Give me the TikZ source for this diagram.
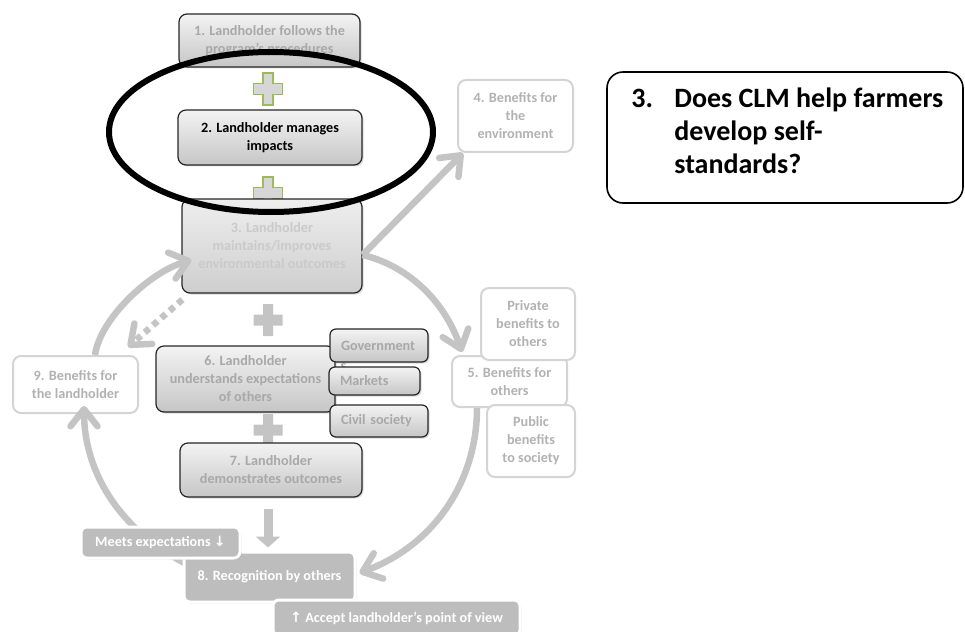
\documentclass[tikz,border=0pt]{standalone}
\usepackage{fontspec}
\setmainfont{Carlito}
\newfontfamily\symfont{DejaVu Sans}
\usetikzlibrary{arrows.meta,shadows,calc}

\definecolor{linegray}{RGB}{196,196,196}
\definecolor{boxtop}{RGB}{243,243,243}
\definecolor{boxbot}{RGB}{198,198,198}
\definecolor{paletop}{RGB}{238,238,238}
\definecolor{palebot}{RGB}{206,206,206}
\definecolor{edgedark}{RGB}{38,38,38}
\definecolor{txtmid}{RGB}{168,168,168}
\definecolor{txtpale}{RGB}{202,202,202}
\definecolor{paleedge}{RGB}{212,212,212}
\definecolor{paletxt}{RGB}{178,178,178}
\definecolor{solidgray}{RGB}{189,189,189}
\definecolor{crossgray}{RGB}{196,196,196}
\definecolor{crossfill}{RGB}{214,214,214}
\definecolor{crossedge}{RGB}{155,187,89}

\pgfdeclarelayer{arrowlayer}
\pgfdeclarelayer{toplayer}
\pgfsetlayers{main,arrowlayer,toplayer}

\tikzset{
  every node/.style={font=\fontsize{14.2}{18}\selectfont\bfseries, inner sep=0pt, align=center},
  stepbox/.style={rounded corners=8pt, draw=edgedark, line width=1.2pt,
    top color=boxtop, bottom color=boxbot, text=txtmid,
    drop shadow={shadow xshift=1.5pt, shadow yshift=-1.5pt, opacity=0.3}},
  tagbox/.style={stepbox, rounded corners=6pt, align=left, inner xsep=11pt},
  outbox/.style={rounded corners=8pt, draw=paleedge, line width=2pt, fill=white, text=paletxt},
  solidbox/.style={rounded corners=6pt, draw=white, line width=3pt, fill=solidgray, text=white,
    drop shadow={shadow xshift=1.5pt, shadow yshift=-1.5pt, opacity=0.3}},
  flow/.style={draw=linegray, line width=6.5pt, -{Straight Barb[length=17pt,width=27pt,round]}},
  dotflow/.style={flow, dash pattern=on 6pt off 5pt},
  blockflow/.style={draw=linegray, line width=9pt, -{Triangle[length=11pt,width=24pt]}},
  greenplus/.style={fill=crossfill, draw=crossedge, line width=1.3pt},
  grayplus/.style={fill=crossgray},
  plusmark/.pic={
    \path[pic actions] (-14.5,-5.5) -- (-5,-5.5) -- (-5,-16) -- (5,-16) -- (5,-5.5) -- (14.5,-5.5)
      -- (14.5,5.5) -- (5,5.5) -- (5,16) -- (-5,16) -- (-5,5.5) -- (-14.5,5.5) -- cycle;
  }
}

\begin{document}
\begin{tikzpicture}[x=1pt,y=-1pt]
\useasboundingbox (0,0) rectangle (965,631);

% plus signs between the steps
\pic[greenplus] at (268,89) {plusmark};
\pic[greenplus] at (268,193) {plusmark};
\pic[grayplus] at (268,320) {plusmark};
\pic[grayplus] at (268,430) {plusmark};

% steps of the chain
\node[stepbox, minimum width=181pt, minimum height=53pt] (b1) at (269.5,40.5)
  {1. Landholder follows the\\program’s procedures};
\node[stepbox, text=black, minimum width=184pt, minimum height=55pt] (b2) at (270,137.5)
  {2. Landholder manages\\impacts};
\node[stepbox, top color=paletop, bottom color=palebot, text=txtpale, minimum width=180pt, minimum height=94pt] (b3) at (272,246)
  {3. Landholder\\maintains/improves\\environmental outcomes};
\node[stepbox, minimum width=179pt, minimum height=66pt] (b6) at (245.5,379)
  {6. Landholder\\understands expectations\\of others};
\node[stepbox, minimum width=182pt, minimum height=54pt] (b7) at (271,470)
  {7. Landholder\\demonstrates outcomes};

% groups whose expectations count
\node[tagbox, minimum width=98pt, minimum height=33pt, text width=76pt] (gov) at (379,345.5) {Government};
\node[anchor=base west, text=txtmid] (govs) at ($(gov.south west)+(11,8)$) {s};
\node[tagbox, minimum width=91pt, minimum height=28pt, text width=69pt] (mkt) at (374.5,381) {Markets};
\node[tagbox, minimum width=98pt, minimum height=32pt, text width=76pt] (civ) at (379,421) {Civil society};

% benefits
\node[outbox, minimum width=115pt, minimum height=72pt] (b4) at (515.5,116)
  {4. Benefits for\\the\\environment};
\node[outbox, minimum width=115pt, minimum height=51pt] (b5) at (509.5,381.5)
  {5. Benefits for\\others};
\node[outbox, minimum width=94pt, minimum height=72pt] (priv) at (528,324)
  {Private\\benefits to\\others};
\node[outbox, minimum width=88pt, minimum height=72pt] (pub) at (531,441)
  {Public\\benefits\\to society};
\node[outbox, minimum width=125pt, minimum height=57pt] (b9) at (75.5,384.5)
  {9. Benefits for\\the landholder};

\begin{pgfonlayer}{toplayer}
  % recognition and its two conditions
  \node[solidbox, minimum width=171pt, minimum height=50pt] (b8) at (269.5,577)
    {8. Recognition by others};
  \node[solidbox, minimum width=159pt, minimum height=31pt] (meet) at (160.5,542.5)
    {Meets expectations {\symfont ↓}};
  \node[solidbox, minimum width=247pt, minimum height=36pt] (acc) at (396.5,618)
    {{\symfont ↑} Accept landholder’s point of view};

  % highlight ring round step 2
  \draw[line width=6pt] (271,132) ellipse [x radius=162pt, y radius=80pt];

  % question panel
  \node[draw=black, line width=1.6pt, rounded corners=16pt, minimum width=356pt, minimum height=131pt] (q) at (785,137.5) {};
  \node[anchor=base west, align=left, font=\fontsize{28}{33}\selectfont\bfseries] (qtext) at ($(q.north west)+(25,36)$)
    {\parbox[t]{330pt}{\hangindent=43pt\hangafter=1\noindent\makebox[43pt][l]{3.}Does CLM help farmers\\develop self-\\standards?}};
\end{pgfonlayer}

\begin{pgfonlayer}{arrowlayer}
  \coordinate (fork) at ($(b3.east)+(0,9)$);
  \draw[flow] (fork) -- ($(b4.south west)+(6,0)$);
  \draw[flow] (fork) .. controls +(43,10) and +(-18,-53) .. ($(b5.north west)+(11,-3)$);
  \draw[flow] ($(b5.south west)+(26,0)$) .. controls +(0,73) and +(75,-28) .. ($(b8.east)+(3,-4)$);
  \draw[flow] ($(b8.west)+(6,-12)$) .. controls +(-70,-35) and +(0,65) .. ($(b9.south)+(8.5,-8)$);
  \draw[flow] ($(b9.north)+(19.5,0)$) .. controls +(5,-36) and +(-42,12) .. ($(b3.west)+(10,14)$);
  \draw[dotflow] ($(b3.south west)+(1,6)$) -- ($(b9.north east)+(-11,-8)$);
  \draw[blockflow] ($(b7.south)+(-3,11)$) -- ($(b8.north)+(-1.5,-3)$);
\end{pgfonlayer}
\end{tikzpicture}
\end{document}
